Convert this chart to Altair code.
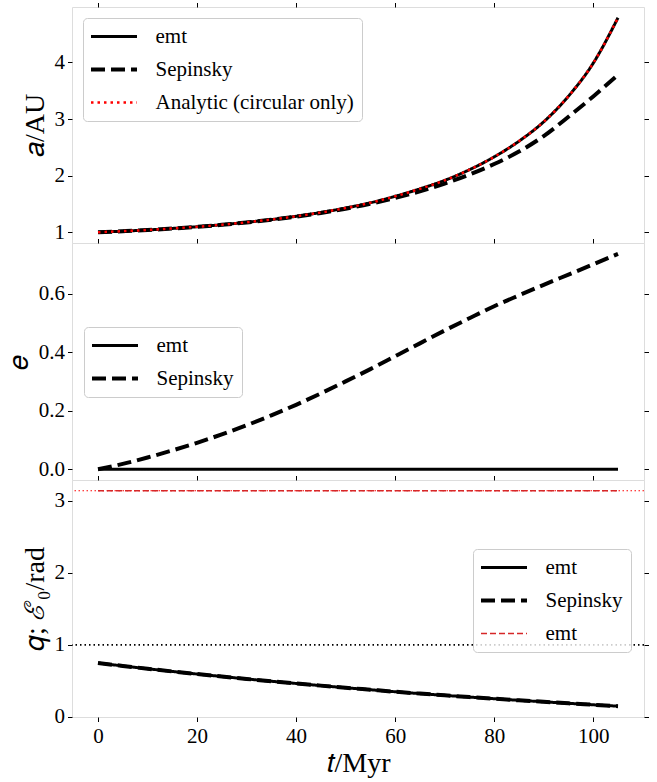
import altair as alt
import pandas as pd

# ---------------- data ----------------
t_myr = [0, 5, 10, 15, 20, 25, 30, 35, 40, 45, 50, 55, 60, 65, 70, 75, 80, 85, 90, 95, 100, 105]

a_emt = [1.000, 1.019, 1.040, 1.067, 1.097, 1.133, 1.176, 1.224, 1.282, 1.349, 1.428,
         1.521, 1.635, 1.767, 1.917, 2.105, 2.332, 2.609, 2.952, 3.405, 3.988, 4.790]
a_sepinsky = [1.000, 1.019, 1.040, 1.066, 1.096, 1.131, 1.173, 1.220, 1.276, 1.341, 1.416,
              1.504, 1.607, 1.724, 1.860, 2.020, 2.205, 2.425, 2.700, 3.040, 3.400, 3.780]
a_analytic = [1.000, 1.019, 1.040, 1.067, 1.097, 1.133, 1.176, 1.224, 1.282, 1.349, 1.428,
              1.521, 1.635, 1.767, 1.917, 2.105, 2.332, 2.609, 2.952, 3.405, 3.988, 4.790]

e_emt = [0.0, 0.0, 0.0, 0.0, 0.0, 0.0, 0.0, 0.0, 0.0, 0.0, 0.0,
         0.0, 0.0, 0.0, 0.0, 0.0, 0.0, 0.0, 0.0, 0.0, 0.0, 0.0]
e_sepinsky = [0.000, 0.018, 0.040, 0.064, 0.090, 0.119, 0.150, 0.184, 0.220, 0.259, 0.300,
              0.342, 0.386, 0.430, 0.474, 0.516, 0.557, 0.594, 0.630, 0.665, 0.700, 0.736]

q_emt = [0.747, 0.707, 0.668, 0.630, 0.594, 0.560, 0.526, 0.494, 0.463, 0.433, 0.404,
         0.376, 0.348, 0.322, 0.298, 0.274, 0.251, 0.229, 0.208, 0.187, 0.167, 0.147]
q_sepinsky = [0.747, 0.707, 0.668, 0.630, 0.594, 0.560, 0.526, 0.494, 0.463, 0.433, 0.404,
              0.376, 0.348, 0.322, 0.298, 0.274, 0.251, 0.229, 0.208, 0.187, 0.167, 0.147]
E0_emt = [3.1416, 3.1416, 3.1416, 3.1416, 3.1416, 3.1416, 3.1416, 3.1416, 3.1416, 3.1416, 3.1416,
          3.1416, 3.1416, 3.1416, 3.1416, 3.1416, 3.1416, 3.1416, 3.1416, 3.1416, 3.1416, 3.1416]
pi_reference = [3.1416]
q_reference = [1.0]

x_ticks = [0, 20, 40, 60, 80, 100]
a_ticks = [1, 2, 3, 4]
e_ticks = [0.0, 0.2, 0.4, 0.6]
q_ticks = [0, 1, 2, 3]

top_names = ["emt", "Sepinsky", "Analytic (circular only)"]
mid_names = ["emt", "Sepinsky"]
bot_names = ["emt", "Sepinsky", "E0 emt"]

# ---------------- styling ----------------
FONT = "Liberation Serif"
W = 572
TICK = 4.5
LEGEND_LINE = "M-2.875,0H2.875"   # 46 px long at symbolSize 256


def long_table(names, series):
    rows = []
    for name, vals in zip(names, series):
        for t, v in zip(t_myr, vals):
            rows.append({"t": t, "v": v, "s": name})
    return pd.DataFrame(rows)


x_scale = alt.Scale(domain=[-5.25, 110.25], nice=False, zero=False)


def x_top():
    return alt.Axis(orient="top", values=x_ticks, labels=False, ticks=True, tickSize=TICK,
                    domain=False, grid=False, title=None, tickColor="black")


def x_bottom():
    return alt.Axis(orient="bottom", values=x_ticks, labels=True, ticks=True, tickSize=TICK,
                    domain=False, grid=False, title="𝑡/Myr", labelFont=FONT, labelFontSize=21,
                    labelColor="black", labelPadding=4, titleFont=FONT, titleFontSize=28,
                    titleFontWeight="normal", titleColor="black", titlePadding=3,
                    tickColor="black")


def y_left(vals, title, fmt):
    return alt.Axis(orient="left", values=vals, format=fmt, labels=True, ticks=True, tickSize=TICK,
                    domain=False, grid=False, title=title, labelFont=FONT, labelFontSize=21,
                    labelColor="black", labelPadding=3, titleFont=FONT, titleFontSize=28,
                    titleFontWeight="normal", titleColor="black", titlePadding=5,
                    tickColor="black")


def y_right(vals):
    return alt.Axis(orient="right", values=vals, labels=False, ticks=True, tickSize=TICK,
                    domain=False, grid=False, title=None, tickColor="black")


def legend(lx, ly, label_expr=None):
    kw = dict(title=None, orient="none", legendX=lx, legendY=ly, symbolType=LEGEND_LINE,
              symbolSize=256, symbolOffset=12.5, labelFont=FONT, labelFontSize=21,
              labelColor="black", labelOffset=31, fillColor="rgba(255,255,255,0.8)",
              strokeColor="#cccccc", cornerRadius=4, padding=8, rowPadding=11, labelLimit=400)
    if label_expr:
        kw["labelExpr"] = label_expr
    return alt.Legend(**kw)


def style_encodings(names, colors, dashes, widths, leg):
    return dict(
        color=alt.Color("s:N", scale=alt.Scale(domain=names, range=colors), legend=leg),
        strokeDash=alt.StrokeDash("s:N", scale=alt.Scale(domain=names, range=dashes), legend=leg),
        strokeWidth=alt.StrokeWidth("s:N", scale=alt.Scale(type="ordinal", domain=names, range=widths),
                                    legend=leg),
    )


def series_layers(df, names, enc, y_scale, yvals, ytitle, yfmt, bottom):
    layers = []
    for i, name in enumerate(names):
        if i == 0:
            xax, yax = x_top(), y_left(yvals, ytitle, yfmt)
        elif i == 1:
            xax = x_bottom() if bottom else None
            yax = y_right(yvals)
        else:
            xax, yax = None, None
        layers.append(
            alt.Chart(df).transform_filter(alt.datum.s == name).mark_line(
                strokeCap="butt", interpolate="monotone"
            ).encode(
                x=alt.X("t:Q", scale=x_scale, axis=xax),
                y=alt.Y("v:Q", scale=y_scale, axis=yax),
                order="t:Q",
                **enc,
            )
        )
    return layers


# ---------- top panel: a ----------
top_df = long_table(top_names, [a_emt, a_sepinsky, a_analytic])
top_enc = style_encodings(top_names, ["black", "black", "red"],
                          [[1, 0], [14, 6], [2.5, 4]], [3, 4, 2.5], legend(11, 11))
top_scale = alt.Scale(domain=[0.81, 4.98], nice=False, zero=False)
top = alt.layer(*series_layers(top_df, top_names, top_enc, top_scale, a_ticks, "𝑎/AU", "d", False)
                ).resolve_axis(x="independent", y="independent").properties(width=W, height=236)

# ---------- middle panel: e ----------
mid_df = long_table(mid_names, [e_emt, e_sepinsky])
mid_enc = style_encodings(mid_names, ["black", "black"], [[1, 0], [14, 6]], [3, 4], legend(12, 84))
mid_scale = alt.Scale(domain=[-0.037, 0.773], nice=False, zero=False)
mid = alt.layer(*series_layers(mid_df, mid_names, mid_enc, mid_scale, e_ticks, "𝑒", ".1f", False)
                ).resolve_axis(x="independent", y="independent").properties(width=W, height=237)

# ---------- bottom panel: q and E0 ----------
bot_df = long_table(bot_names, [q_emt, q_sepinsky, E0_emt])
bot_enc = style_encodings(bot_names, ["black", "black", "#d62728"],
                          [[1, 0], [14, 6], [6, 3]], [3, 4, 1.4],
                          legend(401, 69, "datum.label == 'E0 emt' ? 'emt' : datum.label"))
bot_scale = alt.Scale(domain=[-0.003, 3.291], nice=False, zero=False)
pi_rule = alt.Chart(pd.DataFrame({"v": pi_reference})).mark_rule(
    color="red", strokeDash=[1.5, 2.5], strokeWidth=1.2
).encode(y=alt.Y("v:Q", scale=bot_scale, axis=None))
one_rule = alt.Chart(pd.DataFrame({"v": q_reference})).mark_rule(
    color="black", strokeDash=[1.5, 3], strokeWidth=1.6
).encode(y=alt.Y("v:Q", scale=bot_scale, axis=None))
bl = series_layers(bot_df, bot_names, bot_enc, bot_scale, q_ticks, "𝑞; ℰ₀/rad", "d", True)
bot = alt.layer(bl[0], bl[1], pi_rule, one_rule, bl[2]
                ).resolve_axis(x="independent", y="independent").properties(width=W, height=237)

chart = alt.vconcat(top, mid, bot, spacing=0, bounds="flush").resolve_scale(
    color="independent", strokeDash="independent", strokeWidth="independent", y="independent"
).resolve_legend(
    color="independent", strokeDash="independent", strokeWidth="independent"
).properties(
    padding={"left": 4, "top": 1, "right": 5, "bottom": 2}
).configure_view(
    stroke="black", strokeWidth=1.5
).configure(background="white")

chart.save("out.html", embed_options={"renderer": "svg", "actions": False})
